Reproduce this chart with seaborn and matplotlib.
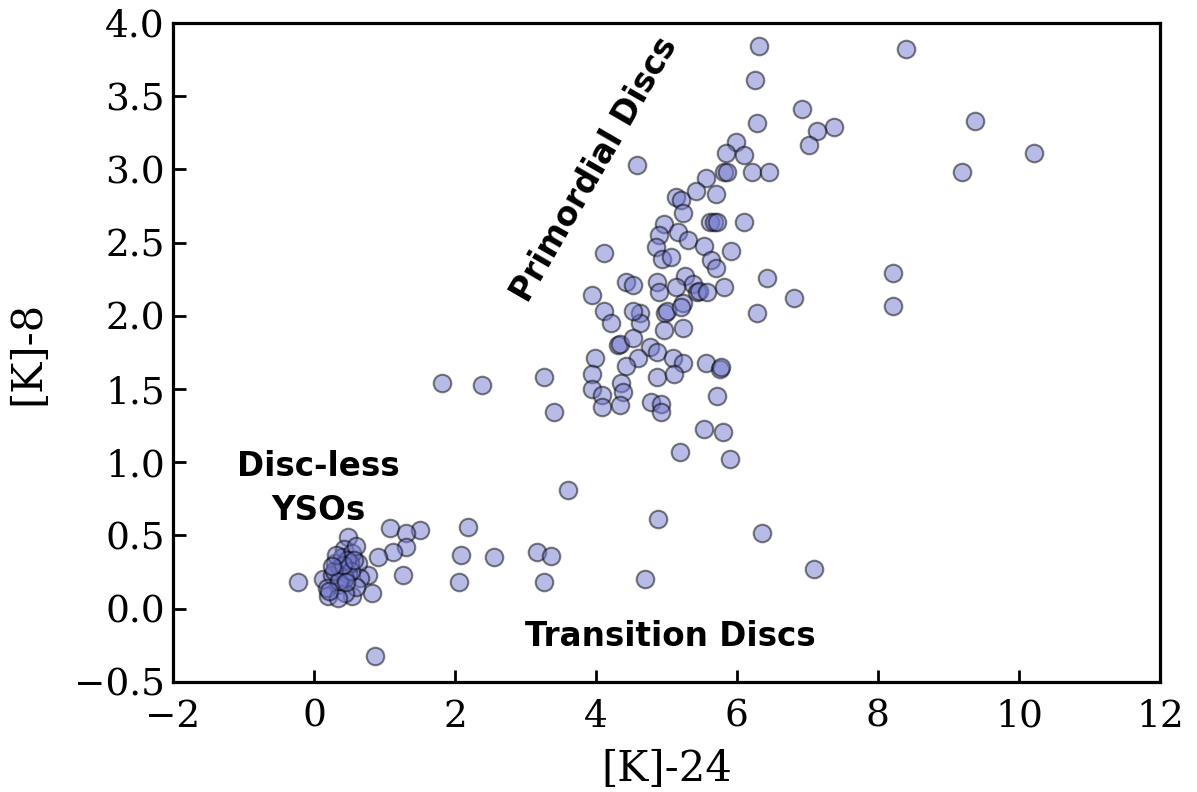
import matplotlib
matplotlib.use("Agg")
import matplotlib.pyplot as plt
import seaborn as sns
import pandas as pd

# [K]-24 colour
k24 = [
    6.32, 8.40, 6.25, 6.92, 9.38, 6.28, 7.37, 7.14, 7.02, 10.22,
    5.99, 5.84, 6.10, 9.19, 5.82, 5.86, 6.22, 6.45, 4.58, 5.56,
    5.70, 5.42, 5.13, 5.20, 5.24, 4.96, 5.16, 4.89, 5.62, 5.67,
    5.72, 6.10, 5.30, 4.85, 5.53, 5.91, 4.11, 4.94, 5.06, 5.63,
    5.70, 5.27, 6.42, 5.37, 5.43, 5.46, 5.81, 4.42, 4.52, 4.87,
    4.89, 5.13, 3.95, 5.24, 5.58, 6.81, 6.28, 4.11, 4.63, 4.98,
    5.01, 8.22, 8.21, 4.21, 4.63, 4.52, 5.20, 5.23, 4.96, 4.31,
    4.34, 4.53, 4.77, 4.87, 4.60, 4.42, 3.99, 5.10, 5.23, 5.56,
    5.76, 5.78, 4.86, 5.11, 3.95, 4.35, 4.38, 3.95, 4.09, 4.09,
    4.34, 4.78, 4.92, 4.93, 5.72, 5.53, 5.80, 5.19, 5.90,
    1.81, 2.39, 3.26, 3.41, 3.60, 4.88, 6.35, 7.09, 4.69,
    2.18, 2.09, 2.56, 3.16, 3.36, 2.06, 3.27, 1.08, 1.51, 1.30,
    1.30, 1.12, 0.91, 1.27, 0.87, 0.83, -0.22,
    0.49, 0.76, 0.54, 0.20, 0.13, 0.30, 0.42, 0.63, 0.66, 0.34, 0.26,
    0.49, 0.40, 0.54, 0.59, 0.44, 0.37, 0.51, 0.44, 0.19, 0.34, 0.60,
    0.28, 0.47, 0.36, 0.22, 0.52, 0.41, 0.31, 0.57, 0.45, 0.25,
]

# [K]-8 colour
k8 = [
    3.84, 3.82, 3.61, 3.41, 3.33, 3.32, 3.29, 3.26, 3.17, 3.11,
    3.19, 3.11, 3.10, 2.98, 2.98, 2.98, 2.98, 2.98, 3.03, 2.94,
    2.83, 2.85, 2.81, 2.79, 2.70, 2.63, 2.57, 2.55, 2.64, 2.64,
    2.64, 2.64, 2.52, 2.47, 2.48, 2.44, 2.43, 2.39, 2.40, 2.38,
    2.33, 2.27, 2.26, 2.22, 2.16, 2.17, 2.20, 2.23, 2.21, 2.23,
    2.16, 2.20, 2.14, 2.09, 2.16, 2.12, 2.02, 2.03, 2.02, 2.02,
    2.03, 2.29, 2.07, 1.95, 1.95, 2.03, 2.06, 1.92, 1.90, 1.80,
    1.81, 1.85, 1.79, 1.75, 1.71, 1.66, 1.71, 1.71, 1.68, 1.68,
    1.64, 1.65, 1.58, 1.60, 1.60, 1.54, 1.48, 1.50, 1.46, 1.38,
    1.39, 1.41, 1.40, 1.34, 1.45, 1.23, 1.21, 1.07, 1.02,
    1.54, 1.53, 1.58, 1.34, 0.81, 0.61, 0.52, 0.27, 0.20,
    0.56, 0.37, 0.35, 0.39, 0.36, 0.18, 0.18, 0.55, 0.54, 0.52,
    0.42, 0.39, 0.35, 0.23, -0.32, 0.11, 0.18,
    0.49, 0.23, 0.09, 0.09, 0.20, 0.31, 0.41, 0.31, 0.21, 0.16, 0.23,
    0.24, 0.35, 0.38, 0.15, 0.11, 0.28, 0.31, 0.21, 0.14, 0.07, 0.43,
    0.26, 0.33, 0.19, 0.12, 0.26, 0.30, 0.37, 0.33, 0.18, 0.29,
]

x_ticks = [-2, 0, 2, 4, 6, 8, 10, 12]
y_ticks = [-0.5, 0.0, 0.5, 1.0, 1.5, 2.0, 2.5, 3.0, 3.5, 4.0]

df = pd.DataFrame({"[K]-24": k24, "[K]-8": k8})

sns.set_style("ticks")
plt.rcParams["font.family"] = ["DejaVu Serif"]
plt.rcParams["axes.linewidth"] = 2.3
plt.rcParams["xtick.direction"] = "in"
plt.rcParams["ytick.direction"] = "in"

fig = plt.figure(figsize=(11.97, 7.92), dpi=100)
ax = fig.add_axes([0.1445, 0.139, 0.8245, 0.832])

sns.scatterplot(data=df, x="[K]-24", y="[K]-8", ax=ax, s=160,
                color="#7379cf", edgecolor="black", linewidth=1.5,
                alpha=0.5, legend=False)

ax.set_xlim(-2, 12)
ax.set_ylim(-0.5, 4.0)
ax.set_xticks(x_ticks)
ax.set_yticks(y_ticks)
ax.set_yticklabels([f"{v:.1f}".replace("-", "\u2212") for v in y_ticks])
ax.tick_params(axis="both", which="major", labelsize=27, length=9,
               width=2, top=False, right=False, color="black",
               labelcolor="black")
ax.tick_params(axis="y", pad=6)
ax.tick_params(axis="x", pad=12)
for sp in ax.spines.values():
    sp.set_visible(True)
    sp.set_color("black")
    sp.set_linewidth(2.3)

ax.set_xlabel("[K]-24", fontsize=30, color="black", labelpad=10)
ax.set_ylabel("[K]-8", fontsize=30, color="black", labelpad=18)

txt = dict(fontsize=23.5, fontweight="bold", family="DejaVu Sans",
           color="black", ha="center", va="center")
ax.text(0.06, 0.82, "Disc-less\nYSOs", linespacing=1.4, **txt)
ax.text(5.06, -0.19, "Transition Discs", **txt)
ax.text(3.98, 3.0, "Primordial Discs", rotation=60, rotation_mode="anchor",
        **txt)

fig.savefig("out.png", dpi=100)
